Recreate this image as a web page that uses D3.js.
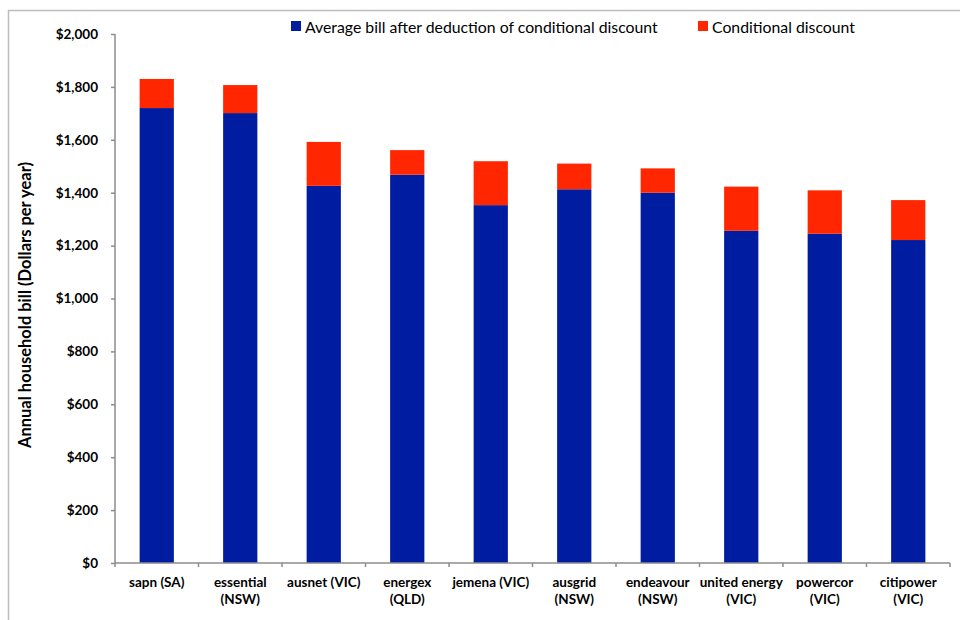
<!DOCTYPE html>
<html>
<head>
<meta charset="utf-8">
<script src="https://cdn.jsdelivr.net/npm/d3@7"></script>
<style>
  body { margin: 0; background: #fff; }
  svg text { font-family: Lato, 'Open Sans', sans-serif; fill: #000; }
</style>
</head>
<body>
<div id="chart-container"></div>
<script>
// Distributors, with the state shown on the label
const providers = ['sapn (SA)', 'essential', 'ausnet (VIC)', 'energex', 'jemena (VIC)',
  'ausgrid', 'endeavour', 'united energy', 'powercor', 'citipower'];
const secondLines = ['', '(NSW)', '', '(QLD)', '', '(NSW)', '(NSW)', '(VIC)', '(VIC)', '(VIC)'];
const billAfterDiscount = [1720, 1701, 1426, 1468, 1353, 1413, 1400, 1256, 1245, 1221];
const conditionalDiscount = [110, 106, 166, 93, 166, 97, 92, 167, 164, 151];
const yTicks = [0, 200, 400, 600, 800, 1000, 1200, 1400, 1600, 1800, 2000];
const seriesNames = ['Average bill after deduction of conditional discount', 'Conditional discount'];
const seriesColors = ['#001ca0', '#ff2600'];

window.onload = () => {
  const width = 960;
  const height = 620;
  const margin = { left: 115, top: 34, right: 8, bottom: 57 };
  const innerW = width - margin.left - margin.right - 2;
  const innerH = height - margin.top - margin.bottom;

  const svg = d3.select('div#chart-container')
    .append('svg')
    .attr('width', width)
    .attr('height', height);

  // outer frame
  svg.append('rect')
    .attr('x', 8.5)
    .attr('y', 10.5)
    .attr('width', 970)
    .attr('height', 640)
    .attr('fill', 'none')
    .attr('stroke', '#bdbdbd')
    .attr('stroke-width', 1.5);

  const g = svg.append('g')
    .attr('transform', `translate(${margin.left},${margin.top})`);

  const x = d3.scaleBand()
    .domain(providers)
    .range([0, innerW])
    .paddingInner(0.59)
    .paddingOuter(0.295);

  const y = d3.scaleLinear()
    .domain([0, 2000])
    .range([innerH, 0]);

  const stacked = d3.stack().keys([0, 1])(providers.map((p, i) => [billAfterDiscount[i], conditionalDiscount[i]]));

  const layers = g.selectAll('g.layer')
    .data(stacked)
    .enter()
    .append('g')
    .attr('class', 'layer')
    .attr('fill', (_, i) => seriesColors[i]);

  layers.selectAll('rect')
    .data(d => d)
    .enter()
    .append('rect')
    .attr('x', (_, i) => x(providers[i]))
    .attr('y', d => y(d[1]))
    .attr('width', x.bandwidth())
    .attr('height', d => y(d[0]) - y(d[1]));

  // y axis
  const yAxis = d3.axisLeft(y)
    .tickValues(yTicks)
    .tickSize(4)
    .tickFormat(d => '$' + d3.format(',')(d));

  const yg = g.append('g').attr('class', 'yaxis').call(yAxis);
  yg.select('.domain').attr('stroke', '#8c8c8c').attr('stroke-width', 1.5).attr('d', `M0,${innerH}V0`);
  yg.selectAll('line').attr('stroke', '#8c8c8c').attr('stroke-width', 1.5);
  yg.selectAll('text')
    .attr('x', -17)
    .style('font-size', '13.5px')
    .style('font-weight', 'bold');

  // x axis with category boundary ticks
  const xg = g.append('g')
    .attr('class', 'xaxis')
    .attr('transform', `translate(0,${innerH})`);

  xg.append('line')
    .attr('x1', 0)
    .attr('x2', innerW)
    .attr('stroke', '#8c8c8c')
    .attr('stroke-width', 1.5);

  xg.selectAll('line.tick')
    .data(d3.range(providers.length + 1))
    .enter()
    .append('line')
    .attr('class', 'tick')
    .attr('x1', i => i * innerW / providers.length)
    .attr('x2', i => i * innerW / providers.length)
    .attr('y1', 0)
    .attr('y2', 4)
    .attr('stroke', '#8c8c8c')
    .attr('stroke-width', 1.5);

  const labels = xg.selectAll('text.label')
    .data(providers)
    .enter()
    .append('text')
    .attr('class', 'label')
    .attr('text-anchor', 'middle')
    .style('font-size', '13.5px')
    .style('font-weight', 'bold');

  labels.append('tspan')
    .attr('x', d => x(d) + x.bandwidth() / 2)
    .attr('y', 24)
    .text(d => d);

  labels.append('tspan')
    .attr('x', d => x(d) + x.bandwidth() / 2)
    .attr('y', 41)
    .text((_, i) => secondLines[i]);

  // y axis title
  svg.append('text')
    .attr('transform', 'translate(31,305) rotate(-90)')
    .attr('text-anchor', 'middle')
    .style('font-size', '16.5px')
    .style('font-weight', 'bold')
    .text('Annual household bill (Dollars per year)');

  // legend
  const legendX = [291, 698];
  const legend = svg.selectAll('g.legend')
    .data(seriesNames)
    .enter()
    .append('g')
    .attr('class', 'legend')
    .attr('transform', (_, i) => `translate(${legendX[i]},21)`);

  legend.append('rect')
    .attr('width', 10)
    .attr('height', 10)
    .attr('fill', (_, i) => seriesColors[i]);

  legend.append('text')
    .attr('x', 14)
    .attr('y', 11.5)
    .style('font-size', '15.8px')
    .text(d => d);
};
</script>
</body>
</html>
